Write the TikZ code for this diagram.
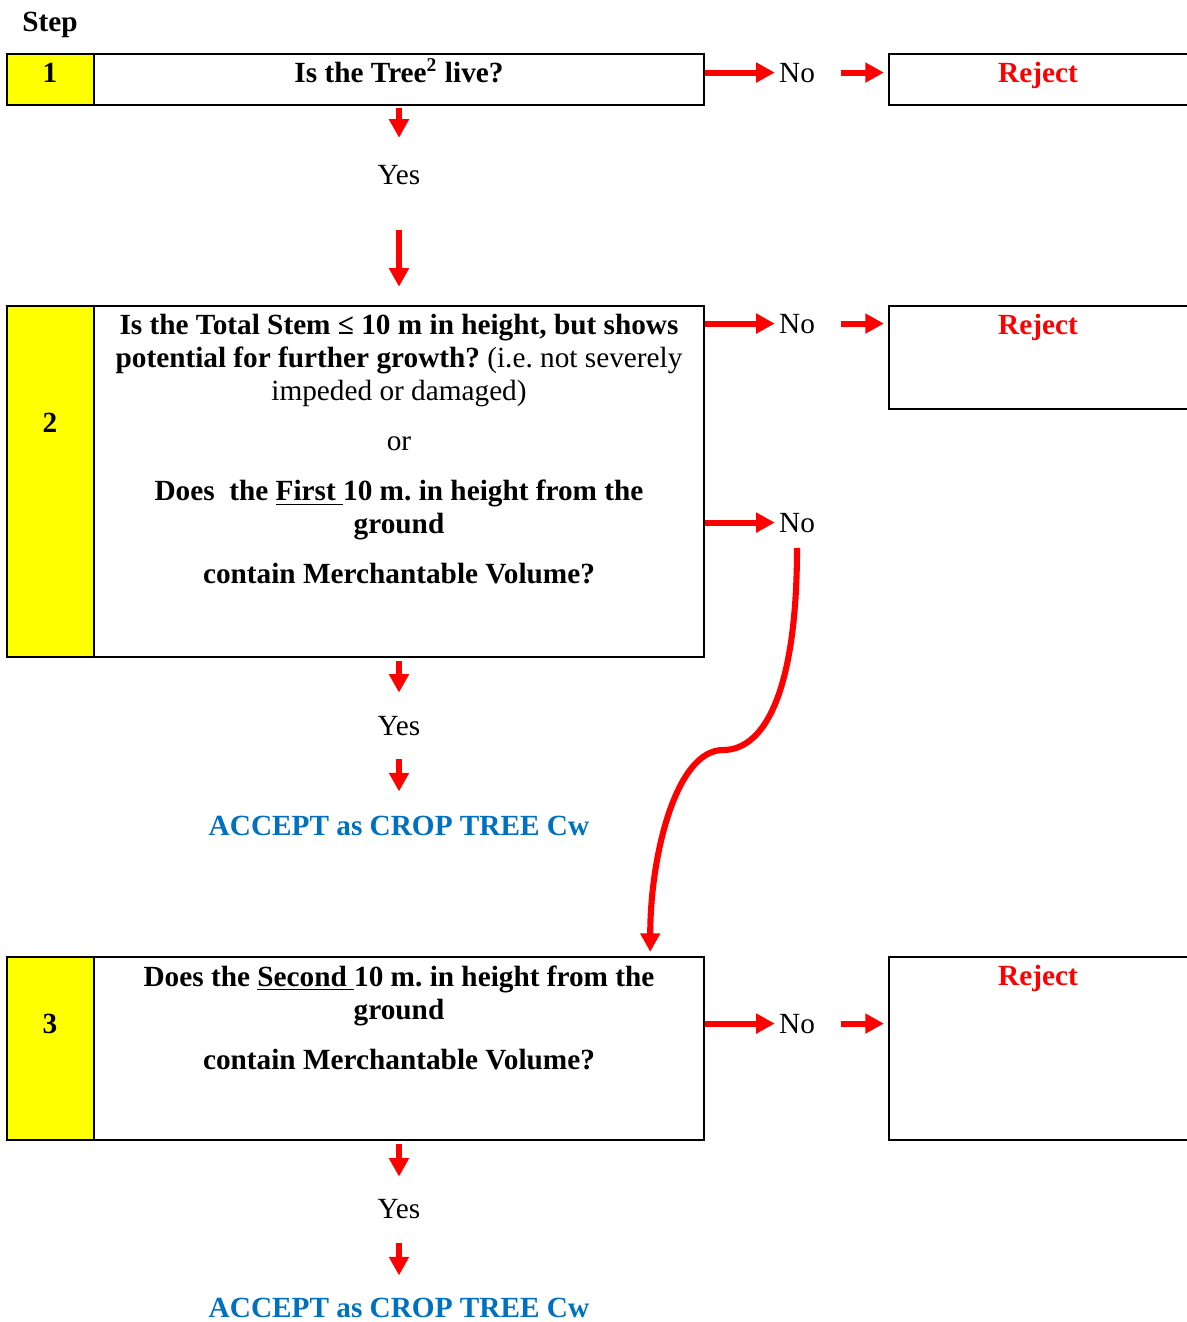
\documentclass[tikz,border=0pt]{standalone}
\usepackage{fontspec}
\setmainfont{Liberation Serif}
\usetikzlibrary{arrows.meta,fit}
\frenchspacing
\definecolor{acceptblue}{RGB}{0,112,192}
\definecolor{stepyellow}{RGB}{255,255,0}
\tikzset{
  box/.style={draw, line width=1pt, inner sep=0pt},
  stepcell/.style={box, fill=stepyellow},
  txt/.style={inner sep=0pt, font=\fontsize{12}{13.5}\selectfont},
  rejecttxt/.style={txt, anchor=base, text=red, font=\fontsize{12}{13.5}\selectfont\bfseries},
  accepttxt/.style={txt, anchor=base, text=acceptblue, font=\fontsize{12}{13.5}\selectfont\bfseries},
  arr/.style={red, line width=2.5pt, -{Triangle[length=7.6pt,width=7.8pt]}}
}

\begin{document}
\begin{tikzpicture}[x=0.41pt, y=-0.41pt]
      \useasboundingbox (0,0) rectangle (1186,1322);
      \node[txt, anchor=base] (steplbl) at (50,31) {\textbf{Step}};

      \node[stepcell, fit={(7,54) (94,105)}] (s1) {};
      \node[box, fit={(94,54) (704,105)}] (q1) {};
      \node[box, fit={(889,54) (1200,105)}] (rej1) {};
      \node[stepcell, fit={(7,306) (94,657)}] (s2) {};
      \node[box, fit={(94,306) (704,657)}] (q2) {};
      \node[box, fit={(889,306) (1200,409)}] (rej2) {};
      \node[stepcell, fit={(7,957) (94,1140)}] (s3) {};
      \node[box, fit={(94,957) (704,1140)}] (q3) {};
      \node[box, fit={(889,957) (1200,1140)}] (rej3) {};

      \node[txt, anchor=base] (n1) at (50,82) {\textbf{1}};
      \node[txt, anchor=base] (n2) at (50,432) {\textbf{2}};
      \node[txt, anchor=base] (n3) at (50,1033) {\textbf{3}};

      \node[txt, anchor=base] (t1) at (399,82) {\textbf{Is the Tree\textsuperscript{2} live?}};
      \node[txt, anchor=north, align=center] (t2) at (399,314)
        {\textbf{Is the Total Stem ≤ 10 m in height, but shows}\\
         \textbf{potential for further growth?} (i.e. not severely\\
         impeded or damaged)\\[7pt]
         or\\[7pt]
         \textbf{Does\ \ the \underline{First\ }10 m. in height from the}\\
         \textbf{ground}\\[7pt]
         \textbf{contain Merchantable Volume?}};
      \node[txt, anchor=north, align=center] (t3) at (399,965)
        {\textbf{Does the \underline{Second\ }10 m. in height from the}\\
         \textbf{ground}\\[7pt]
         \textbf{contain Merchantable Volume?}};

      \node[rejecttxt] (rt1) at (1038,82) {Reject};
      \node[rejecttxt] (rt2) at (1038,334) {Reject};
      \node[rejecttxt] (rt3) at (1038,985) {Reject};

      \node[txt, anchor=base] (no1) at (797,82) {No};
      \node[txt, anchor=base] (no2a) at (797,333) {No};
      \node[txt, anchor=base] (no2b) at (797,532) {No};
      \node[txt, anchor=base] (no3) at (797,1033) {No};

      \node[txt, anchor=base] (yes1) at (399,184) {Yes};
      \node[txt, anchor=base] (yes2) at (399,735) {Yes};
      \node[txt, anchor=base] (yes3) at (399,1218) {Yes};
      \node[accepttxt] (acc1) at (399,835) {ACCEPT as CROP TREE Cw};
      \node[accepttxt] (acc2) at (399,1317) {ACCEPT as CROP TREE Cw};

      \coordinate (bend) at (723,750);

      \draw[arr, shorten >=1.6pt] (no1.west -| q1.east) -- (no1.west);
      \draw[arr, shorten <=10.3pt, shorten >=1.6pt] (no1.east) -- (no1.east -| rej1.west);
      \draw[arr, shorten >=1.6pt] (no2a.west -| q2.east) -- (no2a.west);
      \draw[arr, shorten <=10.3pt, shorten >=1.6pt] (no2a.east) -- (no2a.east -| rej2.west);
      \draw[arr, shorten >=1.6pt] (no2b.west -| q2.east) -- (no2b.west);
      \draw[arr, shorten >=1.6pt] (no3.west -| q3.east) -- (no3.west);
      \draw[arr, shorten <=10.3pt, shorten >=1.6pt] (no3.east) -- (no3.east -| rej3.west);

      \draw[arr, shorten <=0.8pt, shorten >=10.9pt] (q1.south) -- (yes1.north);
      \draw[arr, shorten <=18.5pt, shorten >=7.4pt] (yes1.south) -- (q2.north);
      \draw[arr, shorten <=1.2pt, shorten >=9.3pt] (q2.south) -- (yes2.north);
      \draw[arr, shorten <=9.4pt, shorten >=9.7pt] (yes2.south) -- (acc1.north);
      \draw[arr, shorten <=1.2pt, shorten >=8.9pt] (q3.south) -- (yes3.north);
      \draw[arr, shorten <=9.8pt, shorten >=8.9pt] (yes3.south) -- (acc2.north);

      \draw[arr, shorten <=6.2pt, shorten >=1.6pt] (no2b.south)
        .. controls +(0,150) and +(45,0) .. (bend)
        .. controls +(-47,0) and +(0,-100) .. ([xshift=-55*0.41pt]q3.north east);
\end{tikzpicture}
\end{document}
